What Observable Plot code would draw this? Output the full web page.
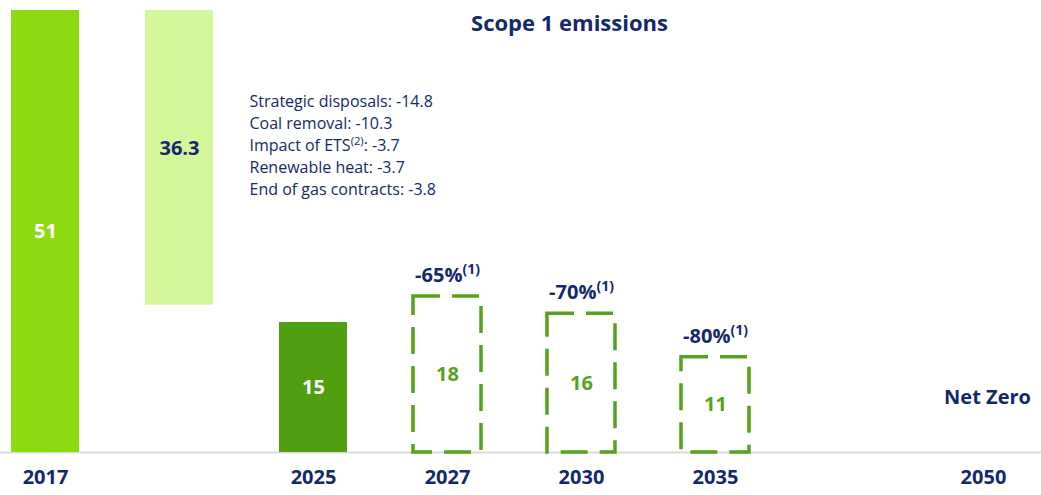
<!DOCTYPE html>
<html>
<head>
<meta charset="utf-8">
<script src="https://cdn.jsdelivr.net/npm/d3@7"></script>
<script src="https://cdn.jsdelivr.net/npm/@observablehq/plot@0.6"></script>
<style>
  html, body { margin: 0; padding: 0; background: #fff; }
  #chart { width: 1041px; height: 495px; }
</style>
</head>
<body>
<div id="chart"></div>
<script>
// ---- data ----
const slots = ["2017", "reduction", "2025", "2027", "2030", "2035", "gap", "2050"];
const yearLabels = ["2017", "", "2025", "2027", "2030", "2035", "", "2050"];

const actualYears = ["2017", "2025"];
const actualValues = [51, 15];

const reductionTop = 51;
const reductionBottom = 17;
const reductionLabel = "36.3";

const targetYears = ["2027", "2030", "2035"];
const targetValues = [18, 16, 11];
const targetPct = ["-65%(1)", "-70%(1)", "-80%(1)"];

const breakdownNames = ["Strategic disposals", "Coal removal", "Impact of ETS(2)", "Renewable heat", "End of gas contracts"];
const breakdownValues = ["-14.8", "-10.3", "-3.7", "-3.7", "-3.8"];

const title = "Scope 1 emissions";
const netZeroYear = "2050";
const netZeroLabel = "Net Zero";

// ---- styles ----
const navy = "#13286E";
const lime = "#8CDB10";
const pale = "#D4F79C";
const dark = "#509F10";
const dashGreen = "#56A21C";

const actual = actualYears.map((y, i) => ({year: y, value: actualValues[i], fill: i === 0 ? lime : dark}));
const targets = targetYears.map((y, i) => ({year: y, value: targetValues[i], pct: targetPct[i]}));
const breakdownText = breakdownNames.map((n, i) => `${n}: ${breakdownValues[i]}`).join("\n");
const labelOf = new Map(slots.map((s, i) => [s, yearLabels[i]]));

const chart = Plot.plot({
  width: 1041,
  height: 495,
  marginTop: 10,
  marginBottom: 43,
  marginLeft: 0,
  marginRight: 0,
  style: {fontFamily: "'Open Sans', sans-serif", background: "#fff", overflow: "visible"},
  x: {domain: slots, range: [11, 1017], paddingInner: 0.4925, paddingOuter: 0, round: false, axis: null},
  y: {domain: [0, 51], axis: null},
  marks: [
    Plot.ruleY([0], {stroke: "#DADADA", strokeWidth: 2}),
    // solid bars
    Plot.barY(actual, {x: "year", y: "value", fill: "fill"}),
    // floating reduction bar
    Plot.barY([{k: "reduction", y1: reductionBottom, y2: reductionTop}], {x: "k", y1: "y1", y2: "y2", fill: pale}),
    // dashed target bars
    Plot.barY(targets, {x: "year", y: "value", fill: "none", stroke: dashGreen, strokeWidth: 3.5, strokeDasharray: "27,12"}),
    // value labels
    Plot.text(actual, {x: "year", y: d => d.value / 2, text: d => String(d.value), fill: "#fff", fontSize: 20, fontWeight: "bold"}),
    Plot.text([{k: "reduction", v: (reductionTop + reductionBottom) / 2}], {x: "k", y: "v", text: () => reductionLabel, fill: navy, fontSize: 20, fontWeight: "bold", dy: -9}),
    Plot.text(targets, {x: "year", y: d => d.value / 2, text: d => String(d.value), fill: dashGreen, fontSize: 20, fontWeight: "bold"}),
    // percent labels
    Plot.text(targets, {x: "year", y: "value", text: "pct", dy: -21, fill: navy, fontSize: 20, fontWeight: "bold"}),
    // breakdown annotation
    Plot.text([breakdownText], {frameAnchor: "top-left", dx: 249, dy: 81, textAnchor: "start", lineAnchor: "top", lineHeight: 22 / 16, fontSize: 16, fill: navy}),
    // net zero
    Plot.text([netZeroYear], {x: d => d, frameAnchor: "bottom", dy: -49, dx: 4, text: () => netZeroLabel, fill: navy, fontSize: 20, fontWeight: "bold"}),
    // year labels
    Plot.text(slots.filter(s => labelOf.get(s)), {x: d => d, frameAnchor: "bottom", dy: 31, text: d => labelOf.get(d), fill: navy, fontSize: 20, fontWeight: "bold"}),
    // title
    Plot.text([title], {frameAnchor: "top", dx: 48.5, dy: 5, fill: navy, fontSize: 22, fontWeight: "bold"})
  ]
});

// superscripts like (1), (2)
function supify(root) {
  const walker = document.createTreeWalker(root, NodeFilter.SHOW_TEXT);
  const nodes = [];
  while (walker.nextNode()) nodes.push(walker.currentNode);
  const NS = "http://www.w3.org/2000/svg";
  for (const n of nodes) {
    const m = n.nodeValue.match(/^(.*?)(\(\d\))(.*)$/);
    if (!m) continue;
    const parent = n.parentNode;
    const a = document.createTextNode(m[1]);
    const sup = document.createElementNS(NS, "tspan");
    sup.setAttribute("font-size", "70%");
    sup.setAttribute("dy", "-0.57em");
    sup.textContent = m[2];
    parent.insertBefore(a, n);
    parent.insertBefore(sup, n);
    if (m[3]) {
      const rest = document.createElementNS(NS, "tspan");
      rest.setAttribute("dy", "0.4em");
      rest.textContent = m[3];
      parent.insertBefore(rest, n);
    }
    parent.removeChild(n);
  }
}
supify(chart);
document.getElementById("chart").appendChild(chart);
</script>
</body>
</html>
